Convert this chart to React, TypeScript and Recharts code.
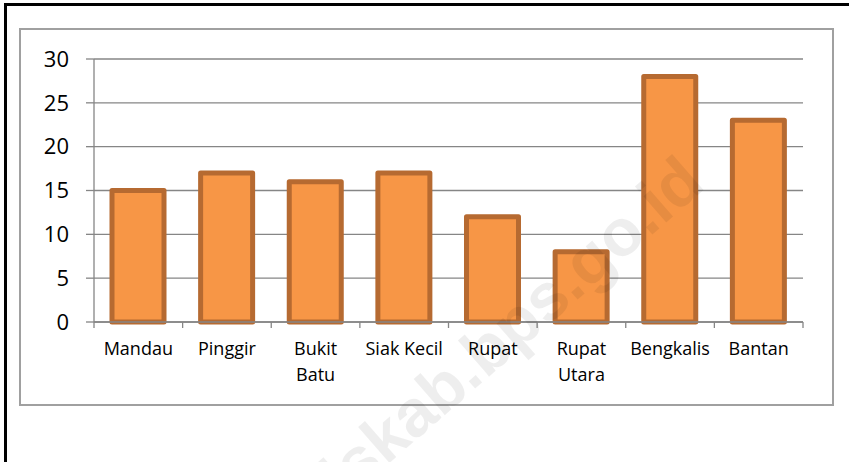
import React from "react";
import { BarChart, Bar, XAxis, YAxis, CartesianGrid } from "recharts";

const categories = ["Mandau", "Pinggir", "Bukit Batu", "Siak Kecil", "Rupat", "Rupat Utara", "Bengkalis", "Bantan"];
const values = [15, 17, 16, 17, 12, 8, 28, 23];
const labelLines = [["Mandau"], ["Pinggir"], ["Bukit", "Batu"], ["Siak Kecil"], ["Rupat"], ["Rupat", "Utara"], ["Bengkalis"], ["Bantan"]];
const yTicks = [0, 5, 10, 15, 20, 25, 30];
const watermark = "bengkaliskab.bps.go.id";

const data = categories.map((c, i) => ({ name: c, value: values[i], lines: labelLines[i] }));

const W = 849;
const H = 462;
const Y_AXIS_W = 94;
const M_RIGHT = 46;
const PLOT_W = W - Y_AXIS_W - M_RIGHT;
const BAND = PLOT_W / categories.length;
const GRAY = "#868686";
const FONT = "'Open Sans', 'Noto Sans', sans-serif";

const XTick = (props: any) => {
  const { x, y, index } = props;
  const lines: string[] = labelLines[index] || [];
  const left = x - BAND / 2;
  return (
    <g>
      <line x1={left} y1={y} x2={left} y2={y + 6} stroke={GRAY} strokeWidth={1.3} />
      {index === categories.length - 1 && (
        <line x1={x + BAND / 2} y1={y} x2={x + BAND / 2} y2={y + 6} stroke={GRAY} strokeWidth={1.3} />
      )}
      <text x={x} y={y} textAnchor="middle" fontFamily={FONT} fontSize={18} fill="#000">
        {lines.map((l, i) => (
          <tspan key={i} x={x} y={y + 33 + i * 26}>
            {l}
          </tspan>
        ))}
      </text>
    </g>
  );
};

export default function App() {
  return (
    <div style={{ position: "absolute", left: 0, top: 0, width: W, height: H, background: "#fff", overflow: "hidden" }}>
      <div style={{ position: "absolute", left: 4, top: 3, width: W, height: H, borderTop: "3px solid #000", borderLeft: "3px solid #000" }} />
      <div style={{ position: "absolute", left: 19, top: 28, width: 811, height: 374, border: "2px solid #a0a0a0" }} />
      <div style={{ position: "absolute", left: 0, top: 0 }}>
        <BarChart width={W} height={H} data={data} margin={{ top: 59, right: M_RIGHT, bottom: 80, left: 0 }} barSize={52}>
          <CartesianGrid vertical={false} stroke={GRAY} strokeWidth={1.3} />
          <XAxis
            dataKey="name"
            axisLine={{ stroke: GRAY, strokeWidth: 1.3 }}
            tickLine={false}
            tickSize={0}
            tickMargin={0}
            height={60}
            interval={0}
            tick={<XTick />}
          />
          <YAxis
            width={Y_AXIS_W}
            domain={[0, 30]}
            ticks={yTicks}
            interval={0}
            axisLine={{ stroke: GRAY, strokeWidth: 1.3 }}
            tickLine={{ stroke: GRAY, strokeWidth: 1.3 }}
            tickSize={8}
            tickMargin={17}
            tick={{ fontFamily: FONT, fontSize: 22, fill: "#000" }}
          />
          <Bar
            dataKey="value"
            fill="#F79646"
            stroke="#B66A31"
            strokeWidth={5}
            strokeLinejoin="round"
            isAnimationActive={false}
          />
        </BarChart>
      </div>
      <svg width={W} height={H} style={{ position: "absolute", left: 0, top: 0, pointerEvents: "none" }}>
        <text
          x={707}
          y={187}
          textAnchor="end"
          fontFamily="'Liberation Sans', Arial, sans-serif"
          fontWeight="bold"
          fontSize={66}
          fill="#000"
          fillOpacity={0.065}
          transform="rotate(-41 707 187)"
        >
          {watermark}
        </text>
      </svg>
    </div>
  );
}
